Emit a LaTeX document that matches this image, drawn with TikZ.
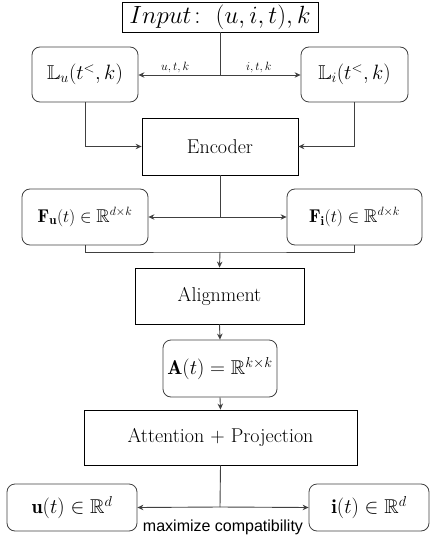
\documentclass[tikz,border=0pt]{standalone}
\usepackage{amsmath,amssymb}
\usepackage{fontspec}
\newfontfamily\labelsans{Liberation Sans}
\usetikzlibrary{arrows.meta}
\tikzset{
  sqbox/.style={draw=black, line width=0.8pt, rectangle, inner sep=0pt, font=\fontsize{20}{24}\selectfont},
  rbox/.style={draw=black!75, line width=0.8pt, rectangle, rounded corners=8pt, inner sep=0pt, font=\fontsize{20}{24}\selectfont},
  conn/.style={draw=black!75, line width=0.9pt},
  arr/.style={conn, -{Stealth[length=6pt,width=5.5pt]}},
  elabel/.style={font=\fontsize{13}{15}\selectfont, inner sep=2pt},
}
\begin{document}
\begin{tikzpicture}[x=1pt,y=-1pt]
\useasboundingbox (0,0) rectangle (430,540);
\node[draw=black, line width=0.8pt, inner sep=0pt, minimum width=196pt, minimum height=30pt, font=\fontsize{24}{28}\selectfont] (input) at (220,17) {$Input\colon\;(u,i,t),k$};
\node[rbox, minimum width=106pt, minimum height=55pt] (lu) at (85,74.5) {$\mathbb{L}_u(t^<,k)$};
\node[rbox, minimum width=107pt, minimum height=55pt] (li) at (354.5,74.5) {$\mathbb{L}_i(t^<,k)$};
\node[sqbox, minimum width=156pt, minimum height=57pt] (enc) at (220,146.5) {Encoder};
\node[rbox, minimum width=126pt, minimum height=56pt, font=\fontsize{18.5}{22}\selectfont] (fu) at (85,217) {$\mathbf{F_u}(t)\in\mathbb{R}^{d\times k}$};
\node[rbox, minimum width=135pt, minimum height=56pt, font=\fontsize{18.5}{22}\selectfont] (fi) at (354.5,217) {$\mathbf{F_i}(t)\in\mathbb{R}^{d\times k}$};
\node[sqbox, minimum width=169pt, minimum height=56pt] (align) at (219.5,296) {Alignment};
\node[rbox, minimum width=114pt, minimum height=57pt] (amat) at (220,368.5) {$\mathbf{A}(t)=\mathbb{R}^{k\times k}$};
\node[sqbox, minimum width=273pt, minimum height=55pt] (attn) at (220.5,437.5) {Attention + Projection};
\node[rbox, minimum width=130pt, minimum height=47pt] (uvec) at (72,507.5) {$\mathbf{u}(t)\in\mathbb{R}^{d}$};
\node[rbox, minimum width=120pt, minimum height=47pt] (ivec) at (369,507.5) {$\mathbf{i}(t)\in\mathbb{R}^{d}$};
\coordinate (j1) at (220,75);
\coordinate (j2) at (220,217);
\coordinate (j3) at (220,252);
\coordinate (j4) at (220,507);
\draw[conn] (input.south) -- (j1);
\draw[arr] (j1) -- node[elabel, above, pos=0.55] {$u,t,k$} (j1 -| lu.east);
\draw[arr] (j1) -- node[elabel, above, pos=0.48] {$i,t,k$} (j1 -| li.west);
\draw[arr] (lu.south) |- (enc.west);
\draw[arr] (li.south) |- (enc.east);
\draw[conn] (enc.south) -- (j2);
\draw[arr] (j2) -- (fu.east);
\draw[arr] (j2) -- (fi.west);
\draw[conn] (fu.south) |- (j3) -| (fi.south);
\draw[arr] (j3) -- (align.north);
\draw[arr] (align.south) -- (amat.north);
\draw[arr] (amat.south) -- (attn.north);
\draw[conn] (attn.south) -- (j4);
\draw[arr] (j4) -- (uvec.east);
\draw[arr] (j4) -- (ivec.west);
\node[font=\labelsans\fontsize{16}{18}\selectfont, inner sep=0pt] (maxc) at (223,527) {maximize compatibility};
\end{tikzpicture}
\end{document}
